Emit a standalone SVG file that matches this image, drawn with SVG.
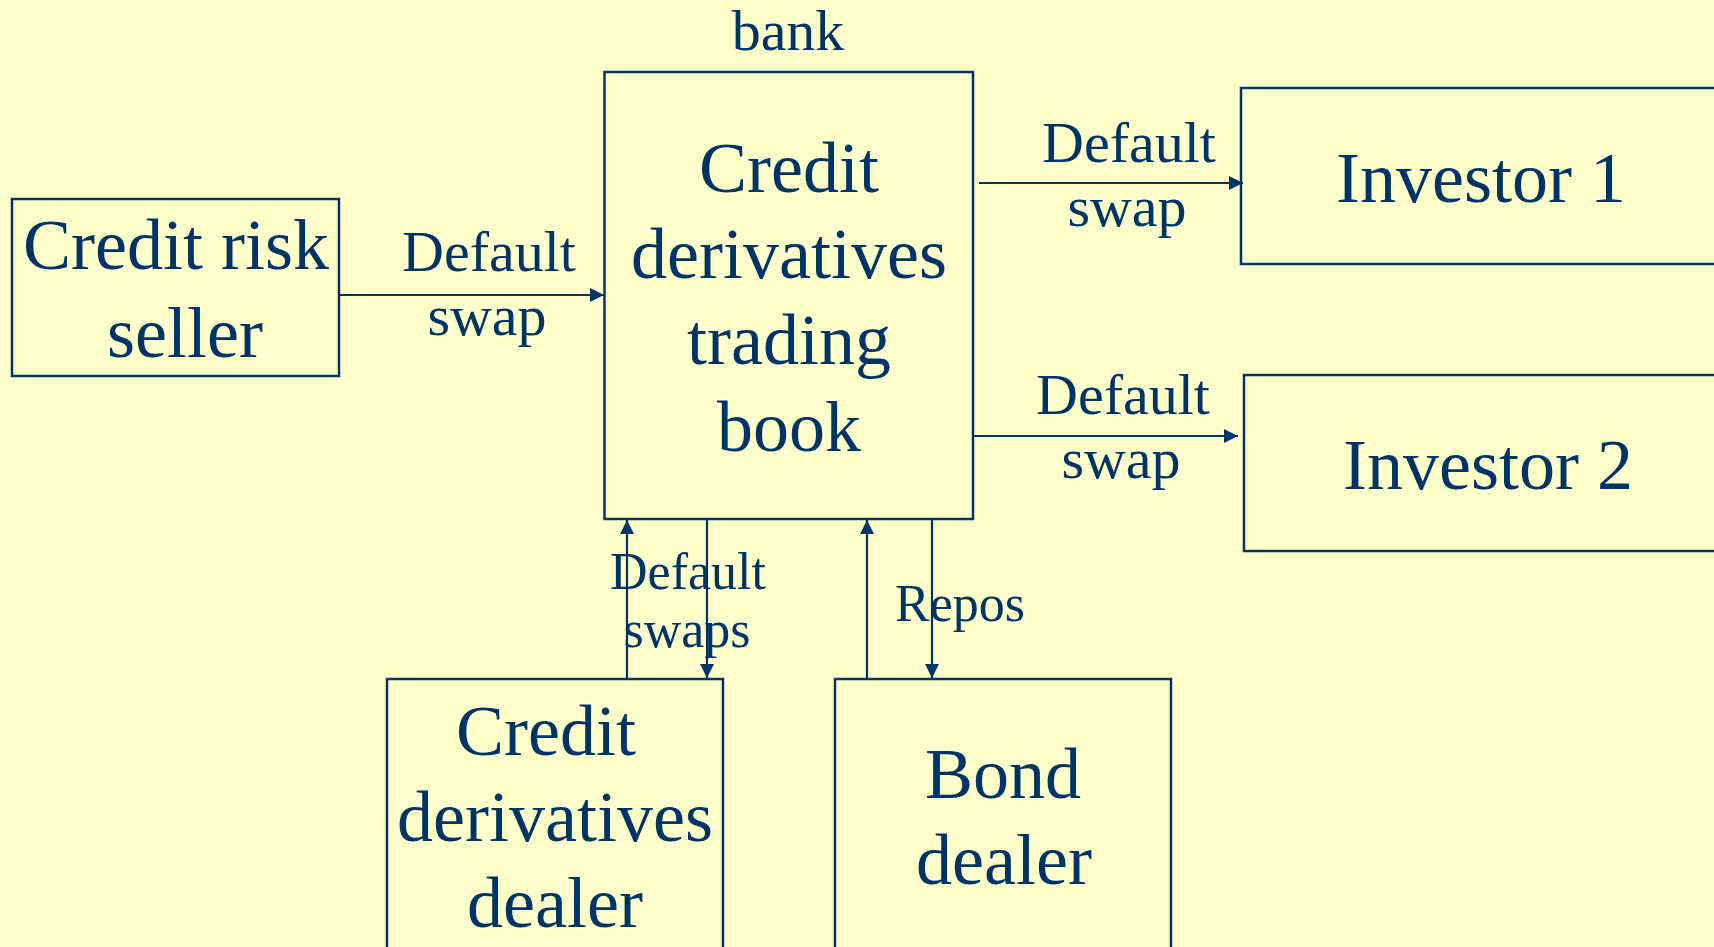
<svg xmlns="http://www.w3.org/2000/svg" width="1714" height="947" viewBox="0 0 1714 947">
<style>
.box{fill:none;stroke:#003366;stroke-width:2.5}
.ln{fill:none;stroke:#003366;stroke-width:2.2}
text{font-family:"Liberation Serif","Times New Roman",serif;fill:#003366;text-anchor:middle}
.big{font-size:72px}
.lbl{font-size:58px}
.sm{font-size:52px}
</style>
<defs>
<marker id="ah" markerUnits="userSpaceOnUse" markerWidth="16" markerHeight="16" viewBox="0 0 16 16" refX="15" refY="8" orient="auto">
<path d="M1,1 L15,8 L1,15 Z" fill="#003366"/>
</marker>
</defs>
<rect x="0" y="0" width="1714" height="947" fill="#FFFFCC"/>
<text class="lbl" x="788" y="50">bank</text>
<g id="book">
<rect class="box" x="604.5" y="72" width="368.5" height="447"/>
<text class="big" x="789" y="192">Credit</text>
<text class="big" x="789" y="278">derivatives</text>
<text class="big" x="789" y="364">trading</text>
<text class="big" x="789" y="451">book</text>
</g>
<g id="seller">
<rect class="box" x="12" y="199" width="327" height="177"/>
<text class="big" x="176" y="269">Credit risk</text>
<text class="big" x="185" y="357">seller</text>
</g>
<g id="inv1">
<rect class="box" x="1241" y="88" width="490" height="176"/>
<text class="big" x="1481" y="202">Investor 1</text>
</g>
<g id="inv2">
<rect class="box" x="1244" y="375" width="490" height="176"/>
<text class="big" x="1488" y="489">Investor 2</text>
</g>
<g id="cdd">
<rect class="box" x="387" y="679" width="336" height="290"/>
<text class="big" x="546" y="755">Credit</text>
<text class="big" x="555" y="841">derivatives</text>
<text class="big" x="555" y="927">dealer</text>
</g>
<g id="bond">
<rect class="box" x="835" y="679" width="336" height="290"/>
<text class="big" x="1003" y="798">Bond</text>
<text class="big" x="1004" y="884">dealer</text>
</g>
<g id="connectors">
<path class="ln" d="M339,295 H604" marker-end="url(#ah)"/>
<path class="ln" d="M979,183 H1243" marker-end="url(#ah)"/>
<path class="ln" d="M973,436 H1238" marker-end="url(#ah)"/>
<path class="ln" d="M627,679 V520" marker-end="url(#ah)"/>
<path class="ln" d="M707,519 V678" marker-end="url(#ah)"/>
<path class="ln" d="M867,679 V520" marker-end="url(#ah)"/>
<path class="ln" d="M932,519 V678" marker-end="url(#ah)"/>
<text class="lbl" x="489" y="271">Default</text>
<text class="lbl" x="487" y="335">swap</text>
<text class="lbl" x="1129" y="162">Default</text>
<text class="lbl" x="1127" y="226">swap</text>
<text class="lbl" x="1123" y="414">Default</text>
<text class="lbl" x="1121" y="478">swap</text>
<text class="sm" x="688" y="589">Default</text>
<text class="sm" x="687" y="647">swaps</text>
<text class="sm" x="960" y="621">Repos</text>
</g>
</svg>
